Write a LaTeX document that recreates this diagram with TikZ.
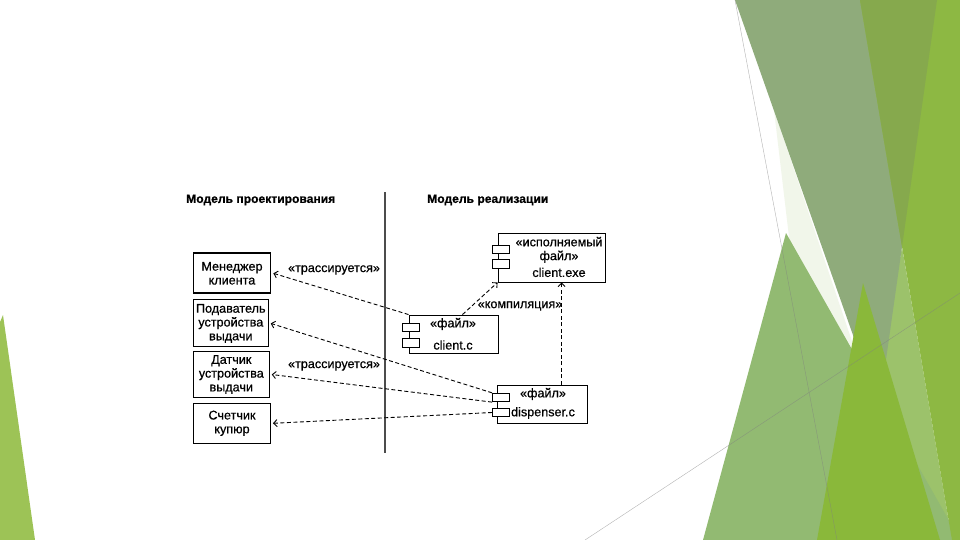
\documentclass[tikz,border=0pt]{standalone}
\usepackage{fontspec}
\setmainfont{Liberation Sans}[FakeBold=0.6]
\newfontfamily\bodyfont{Liberation Sans}[FakeBold=0.6, AutoFakeBold=0.6]
\usetikzlibrary{arrows.meta,calc}
\definecolor{gg}{HTML}{8FAB7B}
\definecolor{olv}{HTML}{86A94D}
\definecolor{brt}{HTML}{8DB843}
\definecolor{lgt}{HTML}{9CC26B}
\definecolor{tlc}{HTML}{92BA72}
\definecolor{tbc}{HTML}{8AB83A}
\definecolor{pale}{HTML}{F1F6EA}
\definecolor{ltri}{HTML}{9DC356}
\begin{document}
\begin{tikzpicture}[x=1pt,y=-1pt,
  txt/.style={font=\fontsize{12.6}{13.8}\selectfont, align=center, inner sep=0pt},
  hdr/.style={font=\fontsize{12.1}{13}\selectfont\bfseries, anchor=west, inner sep=0pt},
  box/.style={draw, line width=0.9pt, inner sep=0pt, txt},
  icon/.style={draw, fill=white, line width=0.8pt, minimum width=17pt, minimum height=8.5pt, inner sep=0pt},
  dep/.style={draw, dash pattern=on 4pt off 2.5pt, line width=0.9pt, -{Straight Barb[length=3.5pt,width=7pt]}},
  thin/.style={draw=gray, line width=0.4pt, opacity=0.6}
]
\useasboundingbox (0,0) rectangle (960,540);
\fill[white] (0,0) rectangle (960,540);
% decoration
\fill[ltri] (0,322) -- (3,315) -- (35,540) -- (0,540) -- cycle;
\fill[lgt] (902,247) -- (952,540) -- (850,540) -- cycle;
\fill[pale] (774,110) -- (800,330) -- (865,380) -- cycle;
\fill[gg] (735,0) -- (937,0) -- (879,409) -- cycle;
\fill[tlc] (786,233) -- (703,540) -- (960,540) -- cycle;
\fill[brt] (860,0) -- (960,0) -- (960,540) -- (952,540) -- cycle;
\begin{scope}
  \clip (735,0) -- (937,0) -- (879,409) -- cycle;
  \fill[olv] (860,0) -- (960,0) -- (960,540) -- (952,540) -- cycle;
\end{scope}
\fill[tbc] (863,283) -- (817,540) -- (940,540) -- cycle;
\coordinate (la) at (735,0);
\coordinate (lb) at (837,540);
\coordinate (lc) at (585,540);
\coordinate (ld) at (960,293);
\draw[thin] (la) -- (lb);
\draw[thin] (lc) -- (ld);
% headers
\node[hdr] (h1) at (186,200) {Модель проектирования};
\node[hdr] (h2) at (427,200) {Модель реализации};
% separator
\coordinate (sepT) at (385,192);
\coordinate (sepB) at (385,453);
\draw[line width=2.2pt, black!70] (sepT) -- (sepB);
% design model
\node[box, line width=1.7pt, minimum width=77pt, minimum height=40pt] (mgr) at (232,273.3) {Менеджер\\клиента};
\node[box, minimum width=75pt, minimum height=47pt] (pod) at (230.8,323.4) {Подаватель\\устройства\\выдачи};
\node[box, minimum width=76pt, minimum height=45.6pt] (dat) at (231.3,374.5) {Датчик\\устройства\\выдачи};
\node[box, minimum width=77pt, minimum height=40pt] (sch) at (232,423.3) {Счетчик\\купюр};
% implementation model
\node[box, minimum width=107pt, minimum height=49pt] (exe) at (551.5,257.5) {};
\node[txt] (exet) at (559,257) {«исполняемый\\файл»\\[3pt]client.exe};
\node[icon] (exei1) at (501,249.2) {};
\node[icon] (exei2) at (501,263.8) {};
\node[box, minimum width=89pt, minimum height=38pt] (cc) at (453.5,334) {};
\node[txt] (cct1) at (453,324) {«файл»};
\node[txt] (cct2) at (453,345) {client.c};
\node[icon] (cci1) at (411,327.5) {};
\node[icon] (cci2) at (411,343) {};
\node[box, minimum width=90pt, minimum height=38pt] (ds) at (542,404) {};
\node[txt] (dst1) at (543,394) {«файл»};
\node[txt] (dst2) at (543,413) {dispenser.c};
\node[icon] (dsi1) at (501,397.5) {};
\node[icon] (dsi2) at (501,412.5) {};
% labels
\node[txt] (tr1) at (334,270) {«трассируется»};
\node[txt] (tr2) at (334,366) {«трассируется»};
\node[txt] (cmp) at (520,306) {«компиляция»};
% connectors
\draw[dep] (cc.north west) -- ([xshift=2pt]mgr.east);
\draw[dep] (dsi1.north west) -- ([xshift=2pt]pod.east);
\draw[dep] (dsi1.south west) -- ([xshift=2pt]dat.east);
\draw[dep] (dsi2.west) -- ([xshift=2pt]sch.east);
\draw[dep] ($(cc.north west)!0.6!(cc.north east)$) -- (exe.south west);
\coordinate (dtop) at ($(ds.north west)+(65,0)$);
\draw[dep] (dtop) -- (dtop |- exe.south);
\end{tikzpicture}
\end{document}
